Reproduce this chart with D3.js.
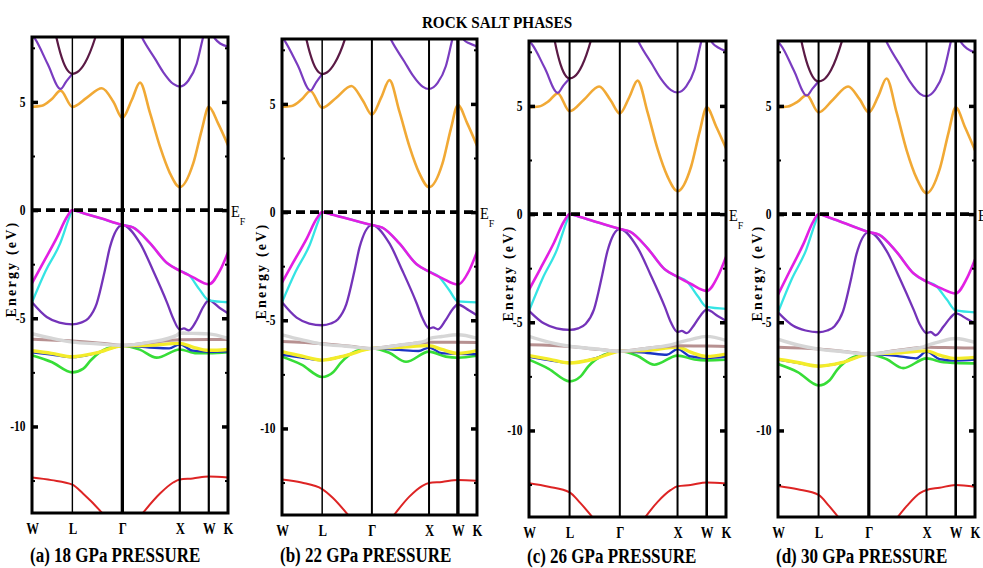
<!DOCTYPE html>
<html>
<head>
<meta charset="utf-8">
<script src="https://cdn.jsdelivr.net/npm/d3@7"></script>
<style>
  html, body { margin: 0; padding: 0; background: #fff; }
  svg { display: block; }
  text { font-family: "Liberation Serif", "Times New Roman", serif; fill: #000; }
</style>
</head>
<body>
<svg id="chart" width="983" height="568"></svg>
<script>
// ---- Figure text ----
const figureTitle = "ROCK SALT PHASES";
const panelTitles = ["(a) 18 GPa PRESSURE", "(b) 22 GPa PRESSURE", "(c) 26 GPa PRESSURE", "(d) 30 GPa PRESSURE"];
const yLabel = "Energy (eV)";

// ---- k-path (fractional path length W-L-Γ-X-W-K) ----
const kPoints = [0, 0.206, 0.461, 0.754, 0.902, 1.0];
const kLabels = ["W", "L", "Γ", "X", "W", "K"];
const energyDomain = [-14, 8];
const yMajorTicks = [5, 0, -5, -10];
const yMinorTicks = [7.5, 2.5, -2.5, -7.5, -12.5];

// ---- Bands: k positions, then energies (eV) for 18, 22, 26, 30 GPa ----
const orangeK = [0, 0.05, 0.10, 0.146, 0.206, 0.28, 0.356, 0.415, 0.461, 0.509, 0.551, 0.602, 0.653, 0.704, 0.754, 0.823, 0.866, 0.902, 0.95, 1.0];
const orangeE = [
  [4.77, 4.82, 5.12, 5.52, 4.77, 5.20, 5.63, 5.01, 4.26, 5.09, 5.89, 4.49, 2.93, 1.70, 1.06, 2.17, 3.70, 4.77, 4.00, 3.00],
  [4.86, 4.90, 5.20, 5.60, 4.82, 5.30, 5.83, 5.15, 4.50, 5.30, 6.10, 4.65, 3.05, 1.80, 1.15, 2.25, 3.85, 4.95, 4.10, 3.07],
  [4.93, 4.97, 5.22, 5.58, 4.75, 5.30, 5.90, 5.25, 4.65, 5.40, 6.17, 4.70, 3.00, 1.72, 1.06, 2.20, 3.80, 4.93, 4.05, 3.04],
  [4.93, 4.97, 5.20, 5.50, 4.70, 5.30, 5.90, 5.30, 4.70, 5.45, 6.27, 4.70, 2.95, 1.65, 0.97, 2.15, 3.78, 4.93, 4.00, 2.95]
];

const purpleUpLK = [0, 0.015, 0.08, 0.146, 0.175, 0.206];
const purpleUpLE = [
  [8.10, 7.92, 6.75, 5.60, 5.95, 6.30],
  [8.10, 7.90, 6.80, 5.62, 6.00, 6.38],
  [8.00, 7.85, 6.75, 5.60, 5.95, 6.27],
  [7.95, 7.80, 6.65, 5.48, 5.80, 6.13]
];

const maroonK = [0.10, 0.126, 0.16, 0.19, 0.206, 0.23, 0.27, 0.321, 0.35];
const maroonE = [
  [9.10, 7.92, 6.84, 6.37, 6.30, 6.37, 6.80, 7.92, 8.84],
  [9.15, 7.95, 6.90, 6.45, 6.38, 6.45, 6.88, 7.95, 8.90],
  [9.70, 8.22, 6.92, 6.35, 6.27, 6.35, 6.88, 8.25, 9.35],
  [8.88, 7.70, 6.65, 6.19, 6.13, 6.20, 6.67, 7.89, 8.86]
];

const purpleUpXK = [0.50, 0.56, 0.628, 0.67, 0.721, 0.754, 0.798, 0.84, 0.871, 0.90];
const purpleUpXE = [
  [9.30, 8.00, 6.99, 6.37, 5.83, 5.71, 5.99, 6.76, 7.92, 9.00],
  [9.20, 7.95, 6.95, 6.33, 5.80, 5.69, 5.97, 6.74, 7.90, 9.00],
  [9.10, 7.90, 6.88, 6.25, 5.73, 5.62, 5.90, 6.68, 7.85, 8.95],
  [9.00, 7.80, 6.76, 6.12, 5.56, 5.45, 5.75, 6.55, 7.72, 8.90]
];

const purpleUpKK = [0.89, 0.934, 0.96, 1.0];
const purpleUpKE = [
  [8.70, 7.92, 7.70, 7.55],
  [8.80, 7.95, 7.80, 7.66],
  [8.70, 7.88, 7.70, 7.53],
  [8.70, 7.88, 7.65, 7.48]
];

const magentaK = [0, 0.056, 0.128, 0.178, 0.206, 0.26, 0.347, 0.461, 0.515, 0.602, 0.689, 0.754, 0.82, 0.902, 0.96, 1.0];
const magentaE = [
  [-3.38, -2.45, -1.25, -0.32, 0, -0.14, -0.37, -0.69, -0.80, -1.53, -2.45, -2.80, -3.10, -3.43, -2.78, -1.95],
  [-3.26, -2.35, -1.20, -0.30, 0, -0.12, -0.33, -0.60, -0.72, -1.45, -2.40, -2.75, -3.05, -3.35, -2.70, -1.83],
  [-3.50, -2.55, -1.30, -0.33, 0, -0.14, -0.38, -0.69, -0.82, -1.58, -2.55, -2.90, -3.22, -3.55, -2.85, -1.98],
  [-3.72, -2.70, -1.40, -0.36, 0, -0.16, -0.45, -0.83, -0.96, -1.75, -2.75, -3.12, -3.40, -3.67, -2.95, -2.10]
];

const cyanK = [0, 0.07, 0.143, 0.19, 0.206, 0.26, 0.347, 0.461, 0.515, 0.602, 0.689, 0.754, 0.80, 0.857, 0.902, 1.0];
const cyanE = [
  [-4.26, -2.80, -1.55, -0.35, 0, -0.14, -0.37, -0.69, -0.80, -1.53, -2.45, -2.80, -3.00, -3.70, -4.17, -4.26],
  [-4.17, -2.75, -1.50, -0.33, 0, -0.12, -0.33, -0.60, -0.72, -1.45, -2.40, -2.75, -2.95, -3.60, -4.13, -4.17],
  [-4.47, -2.95, -1.62, -0.37, 0, -0.14, -0.38, -0.69, -0.82, -1.58, -2.55, -2.90, -3.10, -3.80, -4.29, -4.38],
  [-4.54, -3.00, -1.65, -0.38, 0, -0.16, -0.45, -0.83, -0.96, -1.75, -2.75, -3.12, -3.30, -3.95, -4.45, -4.54]
];

const purpleLowK = [0, 0.075, 0.14, 0.206, 0.25, 0.287, 0.33, 0.372, 0.398, 0.461, 0.551, 0.617, 0.69, 0.72, 0.754, 0.775, 0.80, 0.84, 0.874, 0.902, 0.96, 1.0];
const purpleLowE = [
  [-4.26, -4.94, -5.20, -5.28, -5.20, -5.01, -4.32, -2.78, -1.70, -0.69, -1.53, -2.78, -4.30, -5.00, -5.52, -5.47, -5.56, -5.09, -4.47, -4.17, -4.54, -4.77],
  [-4.17, -4.88, -5.15, -5.23, -5.15, -4.95, -4.25, -2.70, -1.62, -0.60, -1.45, -2.70, -4.20, -4.90, -5.38, -5.33, -5.42, -4.98, -4.50, -4.27, -4.55, -4.77],
  [-4.47, -5.05, -5.28, -5.35, -5.28, -5.08, -4.40, -2.80, -1.72, -0.69, -1.55, -2.80, -4.30, -5.00, -5.45, -5.40, -5.50, -5.10, -4.65, -4.42, -4.72, -4.93],
  [-4.54, -5.15, -5.38, -5.46, -5.38, -5.18, -4.50, -2.95, -1.86, -0.83, -1.70, -2.95, -4.45, -5.10, -5.50, -5.45, -5.60, -5.20, -4.80, -4.59, -4.85, -5.05]
];

const greyK = [0, 0.10, 0.206, 0.33, 0.461, 0.60, 0.738, 0.754, 0.82, 0.902, 1.0];
const greyE = [
  [-5.71, -5.92, -6.10, -6.18, -6.25, -6.10, -5.79, -5.68, -5.70, -5.72, -5.93],
  [-5.67, -5.90, -6.10, -6.20, -6.30, -6.15, -5.95, -5.85, -5.75, -5.67, -5.83],
  [-5.65, -5.92, -6.11, -6.22, -6.34, -6.20, -6.00, -5.95, -5.80, -5.65, -5.84],
  [-5.78, -6.05, -6.24, -6.36, -6.47, -6.32, -6.14, -6.08, -5.90, -5.75, -5.93]
];

const brownK = [0, 0.206, 0.35, 0.461, 0.60, 0.754, 0.902, 1.0];
const brownE = [
  [-5.97, -6.05, -6.15, -6.25, -6.12, -5.99, -5.98, -5.98],
  [-5.98, -6.08, -6.20, -6.30, -6.15, -6.02, -6.02, -6.03],
  [-6.04, -6.12, -6.25, -6.34, -6.20, -6.08, -6.10, -6.12],
  [-6.16, -6.24, -6.36, -6.47, -6.30, -6.16, -6.18, -6.19]
];

const yellowK = [0, 0.10, 0.206, 0.33, 0.461, 0.60, 0.754, 0.82, 0.902, 1.0];
const yellowE = [
  [-6.50, -6.62, -6.78, -6.60, -6.27, -6.25, -6.16, -6.33, -6.48, -6.44],
  [-6.45, -6.65, -6.84, -6.62, -6.30, -6.25, -6.17, -6.35, -6.53, -6.40],
  [-6.54, -6.70, -6.88, -6.70, -6.34, -6.30, -6.14, -6.38, -6.58, -6.47],
  [-6.70, -6.86, -7.03, -6.85, -6.47, -6.42, -6.32, -6.52, -6.67, -6.62]
];

const blueK = [0, 0.10, 0.206, 0.33, 0.461, 0.60, 0.70, 0.754, 0.82, 0.902, 1.0];
const blueE = [
  [-6.57, -6.68, -6.80, -6.60, -6.27, -6.35, -6.39, -6.20, -6.50, -6.55, -6.53],
  [-6.60, -6.72, -6.84, -6.62, -6.30, -6.37, -6.42, -6.26, -6.52, -6.55, -6.57],
  [-6.60, -6.75, -6.88, -6.68, -6.34, -6.42, -6.50, -6.24, -6.58, -6.65, -6.60],
  [-6.73, -6.88, -7.03, -6.85, -6.47, -6.55, -6.67, -6.36, -6.70, -6.77, -6.73]
];

const greenK = [0, 0.10, 0.206, 0.262, 0.30, 0.381, 0.461, 0.55, 0.636, 0.754, 0.84, 0.902, 1.0];
const greenE = [
  [-6.71, -7.02, -7.50, -7.33, -6.94, -6.40, -6.27, -6.45, -6.82, -6.44, -6.62, -6.62, -6.57],
  [-6.68, -7.05, -7.62, -7.40, -6.98, -6.42, -6.30, -6.50, -6.92, -6.45, -6.68, -6.73, -6.64],
  [-6.73, -7.15, -7.73, -7.50, -7.05, -6.50, -6.34, -6.55, -6.96, -6.54, -6.72, -6.76, -6.73],
  [-6.93, -7.30, -7.92, -7.68, -7.20, -6.62, -6.47, -6.70, -7.12, -6.67, -6.85, -6.88, -6.90]
];

const redK = [0, 0.10, 0.206, 0.26, 0.357, 0.461, 0.566, 0.653, 0.72, 0.754, 0.82, 0.902, 1.0];
const redE = [
  [-12.36, -12.48, -12.69, -13.10, -14.00, -15.30, -14.00, -13.10, -12.59, -12.45, -12.40, -12.31, -12.36],
  [-12.36, -12.50, -12.80, -13.20, -14.20, -15.40, -14.10, -13.15, -12.65, -12.52, -12.47, -12.38, -12.42],
  [-12.44, -12.60, -12.86, -13.35, -14.40, -15.60, -14.30, -13.30, -12.75, -12.58, -12.52, -12.40, -12.45],
  [-12.57, -12.72, -12.98, -13.50, -14.60, -15.80, -14.50, -13.50, -12.90, -12.75, -12.65, -12.52, -12.60]
];

// ---- Drawing ----
const svg = d3.select("#chart");

// plot boxes and the stroke width of the L, Γ, X, W guide lines in each panel
const panels = [
  { left: 32,  top: 37, right: 228, bottom: 513, caption: 562, guide: [1.4, 3.3, 2.2, 2.2] },
  { left: 282, top: 39, right: 477, bottom: 515, caption: 562, guide: [1.5, 2.0, 2.0, 3.4] },
  { left: 529, top: 41, right: 726, bottom: 517, caption: 563, guide: [2.0, 2.0, 2.0, 2.6] },
  { left: 778, top: 41, right: 975, bottom: 517, caption: 563, guide: [2.0, 3.2, 2.0, 2.6] }
];

// drawing order: deep bands first, then valence, then conduction
const bandLayers = [
  { k: redK,        e: redE,        color: "#dd2424", w: 2.0 },
  { k: greenK,      e: greenE,      color: "#37dd37", w: 2.6 },
  { k: blueK,       e: blueE,       color: "#1c34c4", w: 2.3 },
  { k: yellowK,     e: yellowE,     color: "#f3ec2a", w: 3.4 },
  { k: brownK,      e: brownE,      color: "#b79191", w: 3.0 },
  { k: greyK,       e: greyE,       color: "#d6d6d6", w: 3.4 },
  { k: purpleLowK,  e: purpleLowE,  color: "#7433b9", w: 2.3 },
  { k: cyanK,       e: cyanE,       color: "#35e4e4", w: 2.3 },
  { k: magentaK,    e: magentaE,    color: "#e21fe2", w: 2.6 },
  { k: orangeK,     e: orangeE,     color: "#f1a935", w: 2.6 },
  { k: purpleUpLK,  e: purpleUpLE,  color: "#7a3cc0", w: 2.2 },
  { k: purpleUpXK,  e: purpleUpXE,  color: "#7a3cc0", w: 2.2 },
  { k: purpleUpKK,  e: purpleUpKE,  color: "#7a3cc0", w: 2.2 },
  { k: maroonK,     e: maroonE,     color: "#5b1a45", w: 2.2 }
];

// condensed serif text helper
function label(g, str, x, y, opts) {
  const o = Object.assign({ size: 14, weight: "bold", anchor: "start", sx: 1, rotate: 0 }, opts || {});
  return g.append("text")
    .attr("transform", `translate(${x},${y}) rotate(${o.rotate}) scale(${o.sx},1)`)
    .attr("text-anchor", o.anchor)
    .attr("font-size", o.size)
    .attr("font-weight", o.weight)
    .text(str);
}

label(svg, figureTitle, 497, 28, { size: 16, anchor: "middle", sx: 0.95 });

panels.forEach((p, pi) => {
  const x = d3.scaleLinear().domain([0, 1]).range([p.left, p.right]);
  const y = d3.scaleLinear().domain(energyDomain).range([p.bottom, p.top]);
  const g = svg.append("g");

  const clipId = "clip" + pi;
  svg.append("clipPath").attr("id", clipId)
    .append("rect")
    .attr("x", p.left).attr("y", p.top)
    .attr("width", p.right - p.left).attr("height", p.bottom - p.top);

  const line = d3.line()
    .x(d => x(d[0]))
    .y(d => y(d[1]))
    .curve(d3.curveMonotoneX);

  const bandG = g.append("g").attr("clip-path", `url(#${clipId})`);
  bandLayers.forEach(b => {
    const pts = b.k.map((kk, i) => [kk, b.e[pi][i]]);
    bandG.append("path")
      .attr("d", line(pts))
      .attr("fill", "none")
      .attr("stroke", b.color)
      .attr("stroke-width", b.w)
      .attr("stroke-linejoin", "round")
      .attr("stroke-linecap", "round");
  });

  // Fermi level
  g.append("line")
    .attr("x1", p.left).attr("x2", p.right)
    .attr("y1", y(0)).attr("y2", y(0))
    .attr("stroke", "#000")
    .attr("stroke-width", 3.6)
    .attr("stroke-dasharray", "9,5");

  // high-symmetry guide lines (L, Γ, X, W)
  kPoints.slice(1, 5).forEach((kk, i) => {
    g.append("line")
      .attr("x1", x(kk)).attr("x2", x(kk))
      .attr("y1", p.top).attr("y2", p.bottom)
      .attr("stroke", "#000")
      .attr("stroke-width", p.guide[i]);
  });

  // y axes: major + minor ticks pointing inward on both sides
  const majorL = d3.axisLeft(y).tickValues(yMajorTicks).tickSize(-6).tickPadding(8).tickFormat(d => String(d));
  const minorL = d3.axisLeft(y).tickValues(yMinorTicks).tickSize(-3).tickFormat("");
  const majorR = d3.axisRight(y).tickValues(yMajorTicks).tickSize(-6).tickFormat("");
  const minorR = d3.axisRight(y).tickValues(yMinorTicks).tickSize(-3).tickFormat("");

  const gl = g.append("g").attr("transform", `translate(${p.left},0)`).call(majorL);
  gl.selectAll(".tick line").attr("stroke-width", 3.5);
  gl.selectAll(".tick text")
    .attr("font-family", "Liberation Serif, serif")
    .attr("font-size", 14)
    .attr("font-weight", "bold")
    .attr("transform", "scale(0.82,1)");
  const gml = g.append("g").attr("transform", `translate(${p.left},0)`).call(minorL);
  gml.selectAll(".tick line").attr("stroke-width", 2);
  const gr = g.append("g").attr("transform", `translate(${p.right},0)`).call(majorR);
  gr.selectAll(".tick line").attr("stroke-width", 3.5);
  const gmr = g.append("g").attr("transform", `translate(${p.right},0)`).call(minorR);
  gmr.selectAll(".tick line").attr("stroke-width", 2);
  [gl, gml, gr, gmr].forEach(a => a.select(".domain").remove());

  // x axis labels at the high-symmetry points
  const xa = d3.axisBottom(x).tickValues(kPoints).tickSize(0).tickPadding(9)
    .tickFormat((d, i) => kLabels[i]);
  const gx = g.append("g").attr("transform", `translate(0,${p.bottom})`).call(xa);
  gx.select(".domain").remove();
  gx.selectAll(".tick text")
    .attr("font-family", "Liberation Serif, serif")
    .attr("font-size", 17)
    .attr("font-weight", "bold")
    .attr("transform", "scale(0.75,1)");

  // frame
  g.append("rect")
    .attr("x", p.left).attr("y", p.top)
    .attr("width", p.right - p.left).attr("height", p.bottom - p.top)
    .attr("fill", "none").attr("stroke", "#000").attr("stroke-width", 3);

  // E_F marker
  const ef = g.append("text")
    .attr("transform", `translate(${p.right + 3},${y(0) + 7}) scale(0.9,1)`)
    .attr("font-size", 16);
  ef.append("tspan").text("E");
  ef.append("tspan").attr("font-size", 11).attr("dy", 8).text("F");

  // axis title and panel caption
  label(g, yLabel, p.left - 16, (p.top + p.bottom) / 2 - 6,
    { size: 14, anchor: "middle", rotate: -90, sx: 1 }).attr("letter-spacing", 2.2);
  label(g, panelTitles[pi], p.left - 2, p.caption, { size: 20, sx: 0.85 });
});
</script>
</body>
</html>
